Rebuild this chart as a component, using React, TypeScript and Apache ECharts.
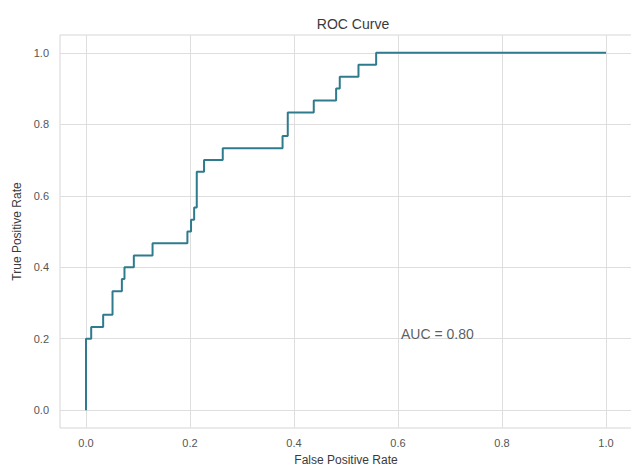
import React, { useEffect, useRef } from "react";
import * as echarts from "echarts";

const fpr = [0, 0, 0.01, 0.033, 0.051, 0.069, 0.074, 0.092, 0.128, 0.195, 0.202, 0.208, 0.213, 0.227, 0.263, 0.378, 0.388, 0.438, 0.481, 0.488, 0.524, 0.558, 1.0];
const tpr = [0, 0.2, 0.233, 0.267, 0.333, 0.367, 0.4, 0.433, 0.467, 0.5, 0.533, 0.567, 0.667, 0.7, 0.733, 0.767, 0.833, 0.867, 0.9, 0.933, 0.967, 1.0, 1.0];
const tickValues = [0, 0.2, 0.4, 0.6, 0.8, 1.0];
const aucLabel = "AUC = 0.80";
const aucPos = [0.6, 0.2];

export default function App() {
  const ref = useRef<HTMLDivElement>(null);
  useEffect(() => {
    if (!ref.current) return;
    const chart = echarts.init(ref.current, null, { renderer: "svg" });
    const font = "'Liberation Sans', Arial, sans-serif";
    const curve = fpr.map((x, i) => [x, tpr[i]]);
    const gridLines = [
      ...tickValues.map((v) => ({ xAxis: v })),
      ...tickValues.map((v) => ({ yAxis: v })),
    ];
    chart.setOption({
      animation: false,
      backgroundColor: "#ffffff",
      textStyle: { fontFamily: font },
      title: {
        text: "ROC Curve",
        left: 348,
        textAlign: "center",
        top: 12,
        textStyle: { fontSize: 14, fontWeight: "normal", color: "#3a3a3a", fontFamily: font },
      },
      grid: {
        left: 60,
        right: -1,
        top: 35,
        bottom: 40,
        containLabel: false,
        outerBoundsMode: "none",
        show: true,
        borderColor: "#d6d6d6",
        borderWidth: 1,
        backgroundColor: "transparent",
      },
      xAxis: {
        type: "value",
        min: -0.05,
        max: 1.05,
        name: "False Positive Rate",
        nameLocation: "middle",
        nameGap: 26,
        nameTextStyle: { fontSize: 12, color: "#3a3a3a", fontFamily: font },
        axisLine: { show: false },
        axisTick: { show: false, customValues: tickValues },
        splitLine: { show: false },
        axisLabel: {
          customValues: tickValues,
          formatter: (v: number) => v.toFixed(1),
          fontSize: 11,
          color: "#555",
          margin: 9,
          fontFamily: font,
        },
      },
      yAxis: {
        type: "value",
        min: -0.05,
        max: 1.05,
        name: "True Positive Rate",
        nameLocation: "middle",
        nameGap: 37,
        nameTextStyle: { fontSize: 12, color: "#3a3a3a", fontFamily: font },
        axisLine: { show: false },
        axisTick: { show: false, customValues: tickValues },
        splitLine: { show: false },
        axisLabel: {
          customValues: tickValues,
          formatter: (v: number) => v.toFixed(1),
          fontSize: 11,
          color: "#555",
          margin: 11,
          fontFamily: font,
        },
      },
      series: [
        {
          type: "line",
          data: curve,
          z: 1,
          showSymbol: false,
          silent: true,
          lineStyle: { opacity: 0, width: 0 },
          markLine: {
            silent: true,
            symbol: "none",
            z: 1,
            label: { show: false },
            lineStyle: { color: "#dedede", width: 1, type: "solid" },
            data: gridLines,
          },
        },
        {
          type: "line",
          data: curve,
          step: "end",
          z: 10,
          showSymbol: false,
          lineStyle: { color: "#2f7b8e", width: 2 },
        },
        {
          type: "scatter",
          data: [aucPos],
          symbolSize: 0,
          z: 11,
          label: {
            show: true,
            formatter: aucLabel,
            position: [0, 0],
            offset: [3, 2],
            align: "left",
            verticalAlign: "bottom",
            fontSize: 14,
            color: "#333",
            fontFamily: font,
          },
        },
      ],
    });
    return () => chart.dispose();
  }, []);
  return (
    <div
      ref={ref}
      style={{ position: "fixed", left: 0, top: 0, width: 631, height: 468 }}
    />
  );
}
